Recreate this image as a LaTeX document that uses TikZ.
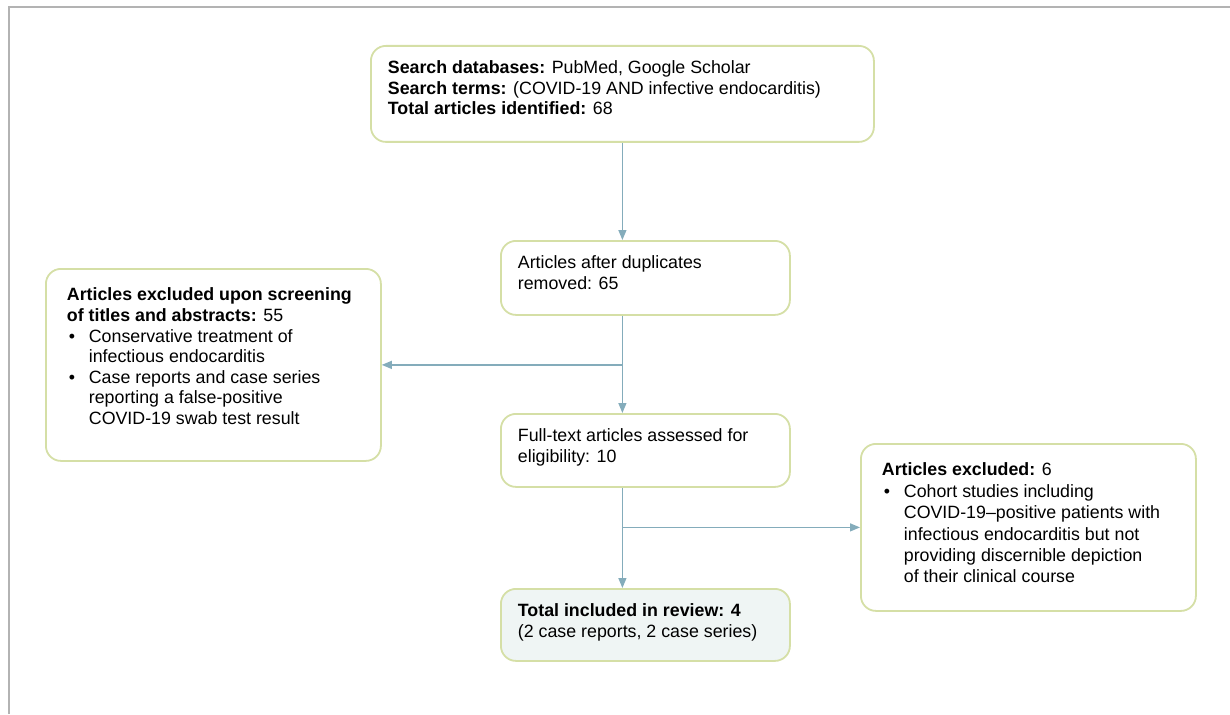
\documentclass[tikz,border=0pt]{standalone}
\usepackage{fontspec}
\setmainfont{Liberation Sans}
\usepackage{tikz}
\usetikzlibrary{arrows.meta,positioning,calc}
\definecolor{flowedge}{HTML}{D5DFA6}
\definecolor{flowarrow}{HTML}{84ACBB}
\definecolor{flowfill}{HTML}{EFF5F4}
\definecolor{framegrey}{HTML}{B3B3B3}
% bullet line with hanging indent
\newcommand{\bitem}[1]{\par\noindent\hangindent=22pt\hangafter=1
  \makebox[22pt][l]{\hspace{2pt}\textbullet}#1}
\newcommand{\boxtext}[3]{\parbox[c][#2][t]{#1}{\raggedright #3}}

\begin{document}
\begin{tikzpicture}[
        x=1pt, y=-1pt,
        font=\fontsize{17.8}{20.6}\selectfont,
        sbox/.style={draw=flowedge, line width=1.8pt, rounded corners=15pt,
                     fill=white, anchor=north west, inner xsep=17pt,
                     inner ysep=15pt},
        excl/.style={sbox, inner xsep=21pt, inner ysep=19pt},
        incl/.style={sbox, fill=flowfill},
        arr/.style={-{Triangle[length=10pt,width=8pt]}, flowarrow,
                    line width=1.3pt}
    ]
        \useasboundingbox (0,0) rectangle (1230,714);
        \draw[framegrey, line width=2pt] (9,714) -- (9,7) -- (1230,7);

        \node[sbox] (search) at (370,45) {\boxtext{469pt}{66pt}{%
            \textbf{Search databases:} PubMed, Google Scholar\\
            \textbf{Search terms:} (COVID-19 AND infective endocarditis)\\
            \textbf{Total articles identified:} 68}};
        \node[sbox] (dupl) at (500,240) {\boxtext{255pt}{44pt}{%
            Articles after duplicates removed: 65}};
        \node[excl] (screen) at (45,268) {\boxtext{293pt}{154pt}{%
            \textbf{Articles excluded upon screening of titles and
            abstracts:} 55
            \bitem{Conservative treatment of infectious endocarditis}
            \bitem{Case reports and case series reporting a false-positive
            COVID-19 swab test result}}};
        \node[sbox] (full) at (500,413) {\boxtext{255pt}{43pt}{%
            Full-text articles assessed for eligibility: 10}};
        \node[excl, font=\fontsize{17.8}{21.4}\selectfont] (cohort)
            at (860,443) {\boxtext{293pt}{129pt}{%
            \textbf{Articles excluded:} 6
            \bitem{Cohort studies including\newline%
            COVID-19–positive patients with\newline%
            infectious endocarditis but not\newline%
            providing discernible depiction\newline%
            of their clinical course}}};
        \node[incl] (total) at (500,588) {\boxtext{255pt}{42pt}{%
            \textbf{Total included in review: 4}\\
            (2 case reports, 2 case series)}};

        \coordinate (split1) at (search.south |- screen.east);
        \coordinate (split2) at (search.south |- cohort.west);
        \draw[arr] (search.south) -- (search.south |- dupl.north);
        \draw[arr] (search.south |- dupl.south) -- (search.south |- full.north);
        \draw[arr] (split1) -- (screen.east);
        \draw[arr] (search.south |- full.south) -- (search.south |- total.north);
        \draw[arr] (split2) -- (cohort.west);
    \end{tikzpicture}
\end{document}
